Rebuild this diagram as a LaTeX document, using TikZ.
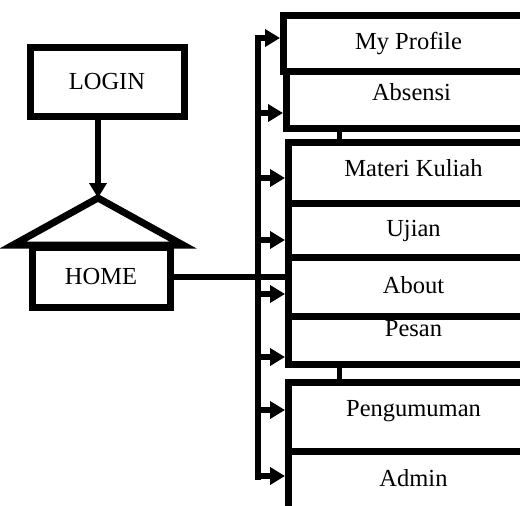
\documentclass[tikz,border=0pt]{standalone}
\usepackage{fontspec}
\setmainfont{Liberation Serif}
\usetikzlibrary{positioning,arrows.meta}

\begin{document}
\begin{tikzpicture}[x=1pt,y=-1pt,
   every node/.style={font=\fontsize{24.5}{28}\selectfont},
   box/.style={draw,line width=7pt,inner sep=0pt},
   menu/.style={box,minimum width=250pt,anchor=north west,
                text height=17pt,text depth=5pt},
   link/.style={line width=6pt},
   arr/.style={line width=6pt,-{Triangle[length=15pt,width=17pt]}}]

\useasboundingbox (0,0) rectangle (520,506);
\clip (0,0) rectangle (520,506);

% left side
\node[box,minimum width=154pt,minimum height=69pt] (login) at (107,81.5) {LOGIN};
\node[box,minimum width=138pt,minimum height=60pt] (home) at (101,277) {HOME};
\coordinate (roof) at (98,198);
\draw[line width=7pt,line join=miter] (13,245) -- (roof) -- (183,245) -- cycle;
\draw[arr] (roof |- login.south) -- (roof);

% menu boxes
\node[menu,minimum height=56pt] (mp) at (280,12) {My Profile};
\node[menu,minimum height=57pt,text depth=17pt] (ab) at (283,68) {Absensi};
\node[menu,minimum height=61pt,text depth=10pt] (mk) at (285,139) {Materi Kuliah};
\node[menu,minimum height=54pt] (uj) at (285,200) {Ujian};
\node[menu,minimum height=59pt] (abt) at (285,254) {About};
\node[menu,minimum height=48pt,text depth=25pt] (ps) at (285,313) {Pesan};
\node[menu,minimum height=69pt,text depth=18pt] (pg) at (285,379) {Pengumuman};
\node[menu,minimum height=58pt] (ad) at (285,448) {Admin};

\draw[line width=5pt] (ab.south -| 339,0) -- (mk.north -| 339,0);
\draw[line width=5pt] (ps.south -| 339,0) -- (pg.north -| 339,0);

% bus
\coordinate (bustop) at (258,38);
\coordinate (busend) at (258,480);
\draw[link] (home.east) -- (abt.west |- home.east);
\draw[arr] (busend) -- (bustop) -- (mp.west |- bustop);
\foreach \b/\y in {ab/113,mk/178,uj/240,abt/294,ps/357,pg/410,ad/476}
  \draw[arr] (258,\y) -- (\b.west |- 0,\y);

\end{tikzpicture}
\end{document}
